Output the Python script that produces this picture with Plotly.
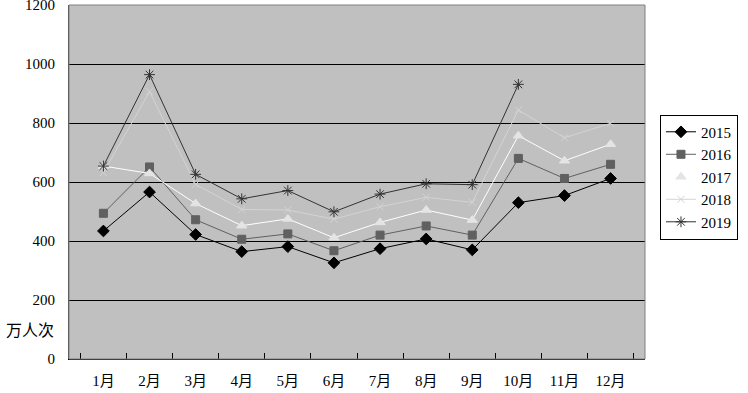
import plotly.graph_objects as go

months = ["1月", "2月", "3月", "4月", "5月", "6月", "7月", "8月", "9月", "10月", "11月", "12月"]
y2015 = [434, 566, 422, 364, 381, 326, 374, 407, 370, 530, 554, 612]
y2016 = [494, 651, 472, 406, 424, 367, 420, 451, 420, 680, 612, 660]
y2017 = [654, 629, 527, 452, 475, 411, 463, 505, 471, 757, 672, 728]
y2018 = [632, 906, 592, 507, 505, 474, 516, 548, 531, 844, 750, 799]
y2019 = [654, 964, 626, 543, 571, 499, 559, 594, 591, 931, None, None]
y_ticks = [0, 200, 400, 600, 800, 1000, 1200]
unit_label = "万人次"

series = [
    ("2015", y2015, "#000000", "#000000", "diamond", 9),
    ("2016", y2016, "#606060", "#606060", "square", 8),
    ("2017", y2017, "#FFFFFF", "#E4E4E4", "triangle-up", 9),
    ("2018", y2018, "#D4D4D4", "#D4D4D4", "x-thin-open", 7),
    ("2019", y2019, "#333333", "#333333", "asterisk-open", 9),
]

fig = go.Figure()
for name, vals, lc, mc, sym, sz in series:
    fig.add_trace(go.Scatter(
        x=months, y=vals, name=name, mode="lines+markers",
        line=dict(color=lc, width=1),
        marker=dict(symbol=sym, size=sz, color=mc, line=dict(color=mc, width=1)),
        connectgaps=False,
    ))

font_family = "Liberation Serif"

fig.update_layout(
    width=748, height=393,
    margin=dict(l=69, r=103, t=5, b=34, autoexpand=False),
    paper_bgcolor="white",
    plot_bgcolor="#C0C0C0",
    font=dict(family=font_family, size=15, color="#000000"),
    showlegend=True,
    legend=dict(
        x=1.026, y=0.514, xanchor="left", yanchor="middle",
        bgcolor="white", bordercolor="#000000", borderwidth=1,
        font=dict(size=15, family=font_family),
        tracegroupgap=0,
    ),
    xaxis=dict(
        type="category", categoryorder="array", categoryarray=months,
        showgrid=False, zeroline=False, automargin=False,
        showline=True, linecolor="#000000", linewidth=1,
        ticks="inside", tickson="boundaries", ticklen=6, tickcolor="#000000",
        ticklabelstandoff=8,
        tickfont=dict(size=15, family="Liberation Serif, Noto Sans CJK SC"),
        mirror=False,
    ),
    yaxis=dict(
        range=[0, 1200], tickvals=y_ticks, automargin=False,
        ticklabeloverflow="allow",
        showgrid=True, gridcolor="#000000", gridwidth=1,
        zeroline=False,
        showline=True, linecolor="#404040", linewidth=1,
        ticks="", ticklabelstandoff=10,
        tickfont=dict(size=15, family=font_family),
    ),
    annotations=[dict(
        text=unit_label, xref="paper", yref="paper",
        x=-0.022, y=0.085, xanchor="right", yanchor="middle",
        showarrow=False, font=dict(size=16, family="Noto Sans CJK SC"),
    )],
    shapes=[dict(
        type="rect", xref="paper", yref="paper", x0=0, x1=1, y0=0, y1=1,
        line=dict(color="#808080", width=1), fillcolor="rgba(0,0,0,0)", layer="above",
    )],
)

fig.write_html(
    "out.html",
    config={"displayModeBar": False},
    post_script="document.body.style.margin='0';document.body.style.overflow='hidden';",
)
